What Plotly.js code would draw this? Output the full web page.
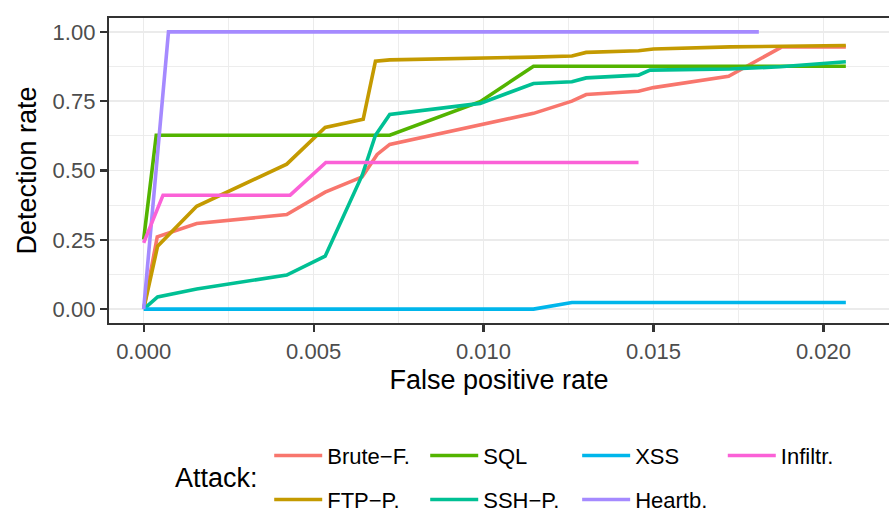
<!DOCTYPE html>
<html><head><meta charset="utf-8">
<script src="https://cdn.plot.ly/plotly-3.0.1.min.js"></script>
<style>html,body{margin:0;padding:0;background:#fff}#chart{width:889px;height:509px}</style>
</head><body><div id="chart"></div>
<script>
// Series names and colours (ggplot hue palette)
const seriesNames = ["Brute\u2212F.", "FTP\u2212P.", "SQL", "SSH\u2212P.", "XSS", "Heartb.", "Infiltr."];
const seriesColors = ["#F8766D", "#C49A00", "#53B400", "#00C094", "#00B6EB", "#A58AFF", "#FB61D7"];

// False positive rate (x) and detection rate (y) per attack
const bruteX = [0, 0.0004, 0.00156, 0.00421, 0.00534, 0.00643, 0.00687, 0.00724, 0.01147, 0.0126, 0.01302, 0.01456, 0.0150, 0.01721, 0.01878, 0.02066];
const bruteY = [0, 0.261, 0.309, 0.341, 0.422, 0.477, 0.558, 0.594, 0.706, 0.750, 0.774, 0.786, 0.799, 0.840, 0.946, 0.946];

const ftpX = [0, 0.00041, 0.00156, 0.00421, 0.00534, 0.00646, 0.00682, 0.00724, 0.01147, 0.0126, 0.01302, 0.01456, 0.0150, 0.01726, 0.02066];
const ftpY = [0, 0.227, 0.371, 0.523, 0.655, 0.685, 0.894, 0.899, 0.909, 0.913, 0.926, 0.932, 0.938, 0.946, 0.951];

const sqlX = [0, 0.00037, 0.00724, 0.0099, 0.01147, 0.02066];
const sqlY = [0.251, 0.627, 0.627, 0.748, 0.876, 0.876];

const sshX = [0, 0.00041, 0.00156, 0.00421, 0.00534, 0.00643, 0.00682, 0.00724, 0.0099, 0.01147, 0.0126, 0.01302, 0.01456, 0.0149, 0.01726, 0.01873, 0.02066];
const sshY = [0, 0.044, 0.073, 0.123, 0.191, 0.483, 0.627, 0.702, 0.742, 0.814, 0.820, 0.834, 0.844, 0.862, 0.866, 0.874, 0.892];

const xssX = [0, 0.01147, 0.0126, 0.02066];
const xssY = [0, 0, 0.024, 0.024];

const heartX = [0, 0.00073, 0.0181];
const heartY = [0, 1, 1];

const infX = [0, 0.00057, 0.00431, 0.00536, 0.01456];
const infY = [0.239, 0.411, 0.411, 0.529, 0.529];

// Tick values / labels
const xTickVals = [0, 0.005, 0.010, 0.015, 0.020];
const xTickText = ["0.000", "0.005", "0.010", "0.015", "0.020"];
const yTickVals = [0, 0.25, 0.5, 0.75, 1.0];
const yTickText = ["0.00", "0.25", "0.50", "0.75", "1.00"];

const allX = [bruteX, ftpX, sqlX, sshX, xssX, heartX, infX];
const allY = [bruteY, ftpY, sqlY, sshY, xssY, heartY, infY];
const legendOf = ["legend", "legend", "legend2", "legend2", "legend3", "legend3", "legend4"];

const FONT = "Liberation Sans, Arial, Helvetica, sans-serif";

const traces = seriesNames.map((n, i) => ({
  type: "scatter", mode: "lines", name: n,
  x: allX[i], y: allY[i],
  line: {color: seriesColors[i], width: 3.6},
  legend: legendOf[i], legendgroup: "g" + i,
  hoverinfo: "skip"
}));

const legBase = {
  orientation: "v", xanchor: "left", yanchor: "top", y: -0.366,
  font: {family: FONT, size: 22, color: "#000"},
  itemwidth: 48, tracegroupgap: 12.4, bgcolor: "rgba(0,0,0,0)", borderwidth: 0,
  itemclick: false, itemdoubleclick: false
};

const axisCommon = {
  showgrid: true, gridcolor: "#EBEBEB", gridwidth: 1.6,
  zeroline: false, showline: true, mirror: true,
  linecolor: "#333333", linewidth: 2.2,
  ticks: "outside", ticklen: 7, tickwidth: 2.2, tickcolor: "#333333",
  tickfont: {family: FONT, size: 22, color: "#4D4D4D"},
  automargin: false
};

const layout = {
  width: 889, height: 509,
  paper_bgcolor: "#fff", plot_bgcolor: "#fff",
  margin: {l: 108.7, r: 0, t: 18, b: 186.3, autoexpand: false},
  showlegend: true,
  font: {family: FONT},
  xaxis: Object.assign({}, axisCommon, {
    range: [-0.00102, 0.02193],
    tickmode: "array", tickvals: xTickVals, ticktext: xTickText,
    minor: {dtick: 0.0025, tick0: 0, showgrid: true, gridcolor: "#EBEBEB", gridwidth: 0.9},
    title: {text: "False positive rate", font: {family: FONT, size: 27, color: "#000"}, standoff: 8}
  }),
  yaxis: Object.assign({}, axisCommon, {
    range: [-0.05, 1.05],
    tickmode: "array", tickvals: yTickVals, ticktext: yTickText,
    minor: {dtick: 0.125, tick0: 0, showgrid: true, gridcolor: "#EBEBEB", gridwidth: 0.9},
    title: {text: "Detection rate", font: {family: FONT, size: 27, color: "#000"}, standoff: 8}
  }),
  legend: Object.assign({}, legBase, {x: 0.2054}),
  legend2: Object.assign({}, legBase, {x: 0.4054}),
  legend3: Object.assign({}, legBase, {x: 0.6002}),
  legend4: Object.assign({}, legBase, {x: 0.7869}),
  annotations: [{
    text: "Attack:", xref: "paper", yref: "paper", x: 0.082, y: -0.5097,
    xanchor: "left", yanchor: "middle", showarrow: false,
    font: {family: FONT, size: 27, color: "#000"}
  }]
};

Plotly.newPlot("chart", traces, layout, {staticPlot: true, displayModeBar: false});
</script>
</body></html>
